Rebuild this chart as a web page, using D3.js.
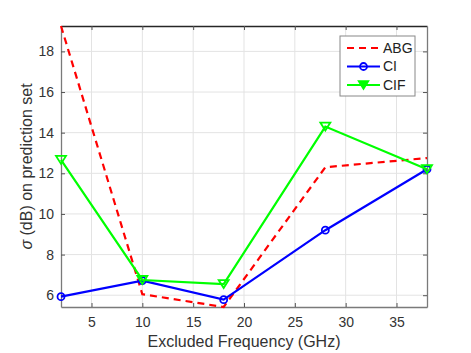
<!DOCTYPE html>
<html>
<head>
<meta charset="utf-8">
<script src="https://cdn.jsdelivr.net/npm/d3@7"></script>
<style>
  body { margin: 0; background: #fff; }
  svg { font-family: Arial, "Liberation Sans", sans-serif; }
</style>
</head>
<body>
<svg id="chart" width="471" height="353"></svg>
<script>
const freqs = [2, 10, 18, 28, 38];
const abg = [19.25, 6.05, 5.42, 12.3, 12.75];
const ci = [5.93, 6.72, 5.78, 9.2, 12.2];
const cif = [12.66, 6.75, 6.55, 14.3, 12.2];
const xTicks = [5, 10, 15, 20, 25, 30, 35];
const yTicks = [6, 8, 10, 12, 14, 16, 18];

const series = [
  { name: "ABG", values: abg, color: "#ff0000", dash: "7,5", marker: null },
  { name: "CI", values: ci, color: "#0000ff", dash: null, marker: "circle" },
  { name: "CIF", values: cif, color: "#00ff00", dash: null, marker: "triangle" }
];

const svg = d3.select("#chart");
const m = { left: 61, right: 427, top: 26, bottom: 307 };

const x = d3.scaleLinear().domain([2, 38]).range([m.left, m.right]);
const allY = abg.concat(ci, cif);
const y = d3.scaleLinear().domain([d3.min(allY), d3.max(allY)]).range([m.bottom, m.top]);

// grid
const grid = svg.append("g");
grid.selectAll(".gx").data(xTicks).enter().append("line")
  .attr("x1", d => x(d)).attr("x2", d => x(d))
  .attr("y1", m.top).attr("y2", m.bottom)
  .attr("stroke", "#e3e3e3").attr("stroke-width", 1);
grid.selectAll(".gy").data(yTicks).enter().append("line")
  .attr("y1", d => y(d)).attr("y2", d => y(d))
  .attr("x1", m.left).attr("x2", m.right)
  .attr("stroke", "#e3e3e3").attr("stroke-width", 1);

// axes
const xAxis = svg.append("g").attr("transform", `translate(0,${m.bottom})`)
  .call(d3.axisBottom(x).tickValues(xTicks).tickSizeInner(-4).tickSizeOuter(0).tickPadding(10));
const yAxis = svg.append("g").attr("transform", `translate(${m.left},0)`)
  .call(d3.axisLeft(y).tickValues(yTicks).tickSizeInner(-4).tickSizeOuter(0).tickPadding(7));
const xTop = svg.append("g").attr("transform", `translate(0,${m.top})`)
  .call(d3.axisTop(x).tickValues(xTicks).tickSizeInner(-4).tickSizeOuter(0).tickFormat(""));
const yRight = svg.append("g").attr("transform", `translate(${m.right},0)`)
  .call(d3.axisRight(y).tickValues(yTicks).tickSizeInner(-4).tickSizeOuter(0).tickFormat(""));

[xAxis, yAxis].forEach(a => {
  a.selectAll("text").attr("font-size", 14).attr("fill", "#333")
    .attr("font-family", "Arial, 'Liberation Sans', sans-serif");
  a.select(".domain").attr("stroke", "#7a7a7a").attr("stroke-width", 1.3);
  a.selectAll(".tick line").attr("stroke", "#555");
});
yRight.select(".domain").attr("stroke", "#7a7a7a").attr("stroke-width", 1.3);
yRight.selectAll(".tick line").attr("stroke", "#555");
xTop.select(".domain").attr("stroke", "#262626").attr("stroke-width", 1.3);
xTop.selectAll(".tick line").attr("stroke", "#555");

// lines
const plot = svg.append("g");
series.forEach(s => {
  const pts = freqs.map((f, i) => [f, s.values[i]]);
  const line = d3.line().x(d => x(d[0])).y(d => y(d[1]));
  plot.append("path").datum(pts)
    .attr("d", line)
    .attr("fill", "none")
    .attr("stroke", s.color)
    .attr("stroke-width", 2.2)
    .attr("stroke-dasharray", s.dash);
  if (s.marker === "circle") {
    plot.selectAll(null).data(pts).enter().append("circle")
      .attr("cx", d => x(d[0])).attr("cy", d => y(d[1]))
      .attr("r", 3.5).attr("fill", "none")
      .attr("stroke", s.color).attr("stroke-width", 1.8);
  } else if (s.marker === "triangle") {
    plot.selectAll(null).data(pts).enter().append("path")
      .attr("d", d => {
        const cx = x(d[0]), cy = y(d[1]);
        return `M${cx - 5},${cy - 4}L${cx + 5},${cy - 4}L${cx},${cy + 4}Z`;
      })
      .attr("fill", "none").attr("stroke", s.color).attr("stroke-width", 1.8);
  }
});

// legend
const lg = svg.append("g").attr("transform", "translate(340,36)");
lg.append("rect").attr("width", 75).attr("height", 60)
  .attr("fill", "#fff").attr("stroke", "#888").attr("stroke-width", 1);
series.forEach((s, i) => {
  const ly = 12 + i * 18.5;
  lg.append("line").attr("x1", 7).attr("x2", 40).attr("y1", ly).attr("y2", ly)
    .attr("stroke", s.color).attr("stroke-width", 2.2).attr("stroke-dasharray", s.dash);
  if (s.marker === "circle") {
    lg.append("circle").attr("cx", 23.5).attr("cy", ly).attr("r", 3.5)
      .attr("fill", "none").attr("stroke", s.color).attr("stroke-width", 1.8);
  } else if (s.marker === "triangle") {
    lg.append("path").attr("d", `M${23.5 - 5},${ly - 4}L${23.5 + 5},${ly - 4}L23.5,${ly + 4}Z`)
      .attr("fill", s.color).attr("stroke", s.color).attr("stroke-width", 1.5);
  }
  lg.append("text").attr("x", 43).attr("y", ly).attr("dy", "0.35em")
    .attr("font-size", 14).attr("fill", "#222").text(s.name);
});

// axis labels
svg.append("text").attr("x", (m.left + m.right) / 2).attr("y", 347)
  .attr("text-anchor", "middle").attr("font-size", 16).attr("fill", "#333")
  .text("Excluded Frequency (GHz)");
const yl = svg.append("text")
  .attr("transform", `translate(32,${(m.top + m.bottom) / 2}) rotate(-90)`)
  .attr("text-anchor", "middle").attr("font-size", 16).attr("fill", "#333");
yl.append("tspan").attr("font-style", "italic").text("σ");
yl.append("tspan").text(" (dB) on prediction set");
</script>
</body>
</html>
